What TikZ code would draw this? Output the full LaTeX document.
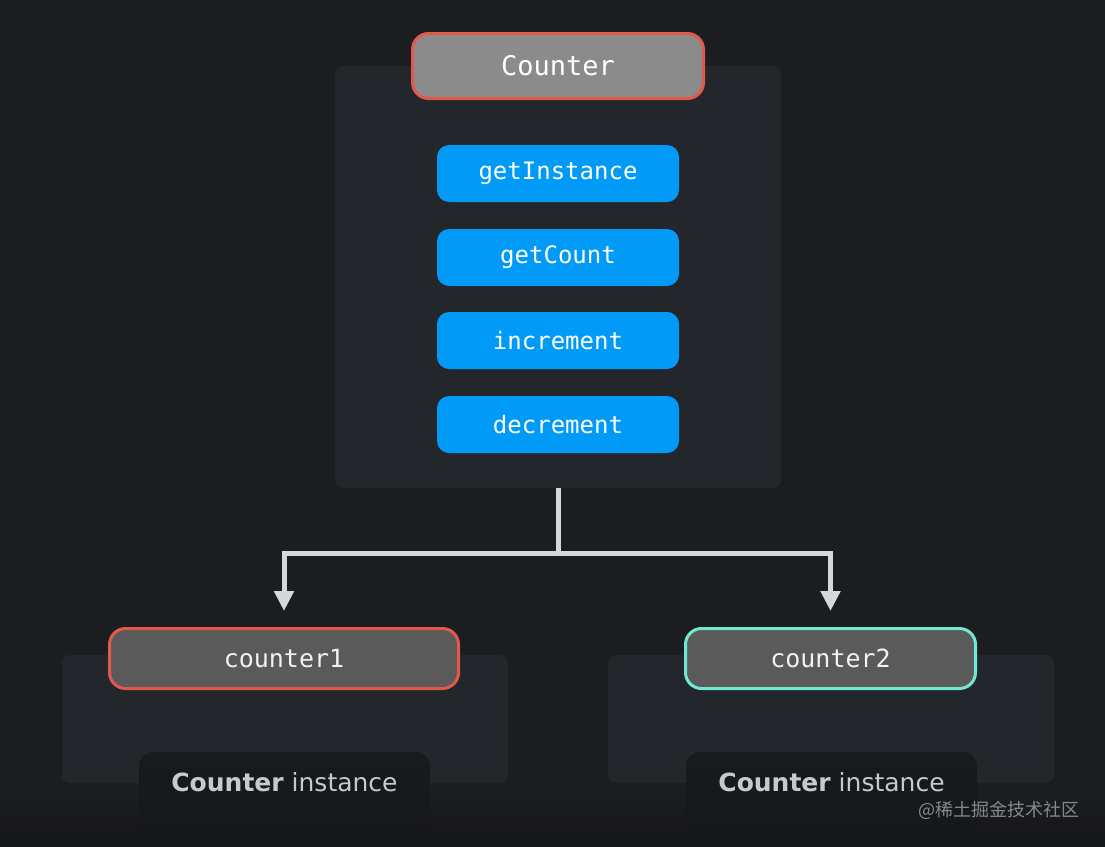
\documentclass[tikz,border=0pt]{standalone}
\usepackage{fontspec}
\setmonofont{DejaVu Sans Mono}
\setsansfont{DejaVu Sans}
\newfontfamily\cjk{Noto Sans CJK SC}
\usetikzlibrary{arrows.meta,calc}
\definecolor{bg}{RGB}{28,29,33}
\definecolor{bgdark}{RGB}{21,22,25}
\definecolor{panel}{RGB}{35,38,42}
\definecolor{labelbg}{RGB}{25,26,29}
\definecolor{labelbot}{RGB}{21,22,25}
\definecolor{titlegray}{RGB}{139,139,139}
\definecolor{instgray}{RGB}{90,90,90}
\definecolor{redb}{RGB}{226,88,74}
\definecolor{tealb}{RGB}{112,232,210}
\definecolor{blueb}{RGB}{2,154,247}
\definecolor{linec}{RGB}{213,215,218}
\definecolor{labeltext}{RGB}{200,201,204}
\definecolor{wmark}{RGB}{135,136,139}
\tikzset{
  panelbox/.style={fill=panel, rounded corners=8pt, inner sep=0pt, minimum width=446pt},
  titlebox/.style={draw=redb, line width=3pt, rounded corners=16pt, inner sep=0pt, text=white},
  method/.style={fill=blueb, rounded corners=12pt, inner sep=0pt, minimum width=242pt, minimum height=57pt, text=white, font=\ttfamily\fontsize{24}{24}\selectfont},
  instbox/.style={fill=instgray, line width=3pt, rounded corners=16pt, inner sep=0pt, minimum height=60pt, text=white!95!black, font=\ttfamily\fontsize{25}{25}\selectfont},
  labeltxt/.style={text=labeltext, font=\sffamily\fontsize{25}{25}\selectfont, inner sep=0pt},
  conn/.style={draw=linec, line width=5pt, -{Triangle[width=19pt,length=20pt]}, shorten >=16pt}
}
\begin{document}
\begin{tikzpicture}[x=1pt,y=-1pt]
\useasboundingbox (0,0) rectangle (1105,846);
\fill[bg] (0,0) rectangle (1105,846);
\shade[top color=bg, bottom color=bgdark] (0,790) rectangle (1105,846);

% main panel
\node[panelbox, minimum height=422pt] (panel) at (558,277) {};
\node[titlebox, fill=titlegray, minimum width=291pt, minimum height=65pt,
      font=\ttfamily\fontsize{27}{27}\selectfont] (title) at (558,66) {Counter};
\node[method] (m1) at (558,173.5) {getInstance};
\node[method] (m2) at (558,257.5) {getCount};
\node[method] (m3) at (558,340.5) {increment};
\node[method] (m4) at (558,424.5) {decrement};

% instance panels
\node[panelbox, minimum height=128pt] (p1) at (285,719) {};
\node[panelbox, minimum height=128pt] (p2) at (831,719) {};
\node[instbox, draw=redb, minimum width=349pt] (c1) at (284,658.5) {counter1};
\node[instbox, draw=tealb, minimum width=290pt] (c2) at (830.5,658.5) {counter2};

% label boxes
\shade[top color=labelbg, bottom color=labelbot, rounded corners=14pt] (139,752) rectangle (430,870);
\shade[top color=labelbg, bottom color=labelbot, rounded corners=14pt] (686,752) rectangle (977,870);
\node[labeltxt] (l1) at (284.5,782) {\textbf{Counter} instance};
\node[labeltxt] (l2) at (831.5,782) {\textbf{Counter} instance};

% connectors
\coordinate (split) at (558,553);
\draw[conn] (panel.south) -- (split) -| (c1.north);
\draw[conn] (split) -| (c2.north);

% watermark
\node[anchor=east, inner sep=0pt, text=wmark, font=\cjk\fontsize{18}{18}\selectfont] (wm) at (1080,810) {@稀土掘金技术社区};
\end{tikzpicture}
\end{document}
